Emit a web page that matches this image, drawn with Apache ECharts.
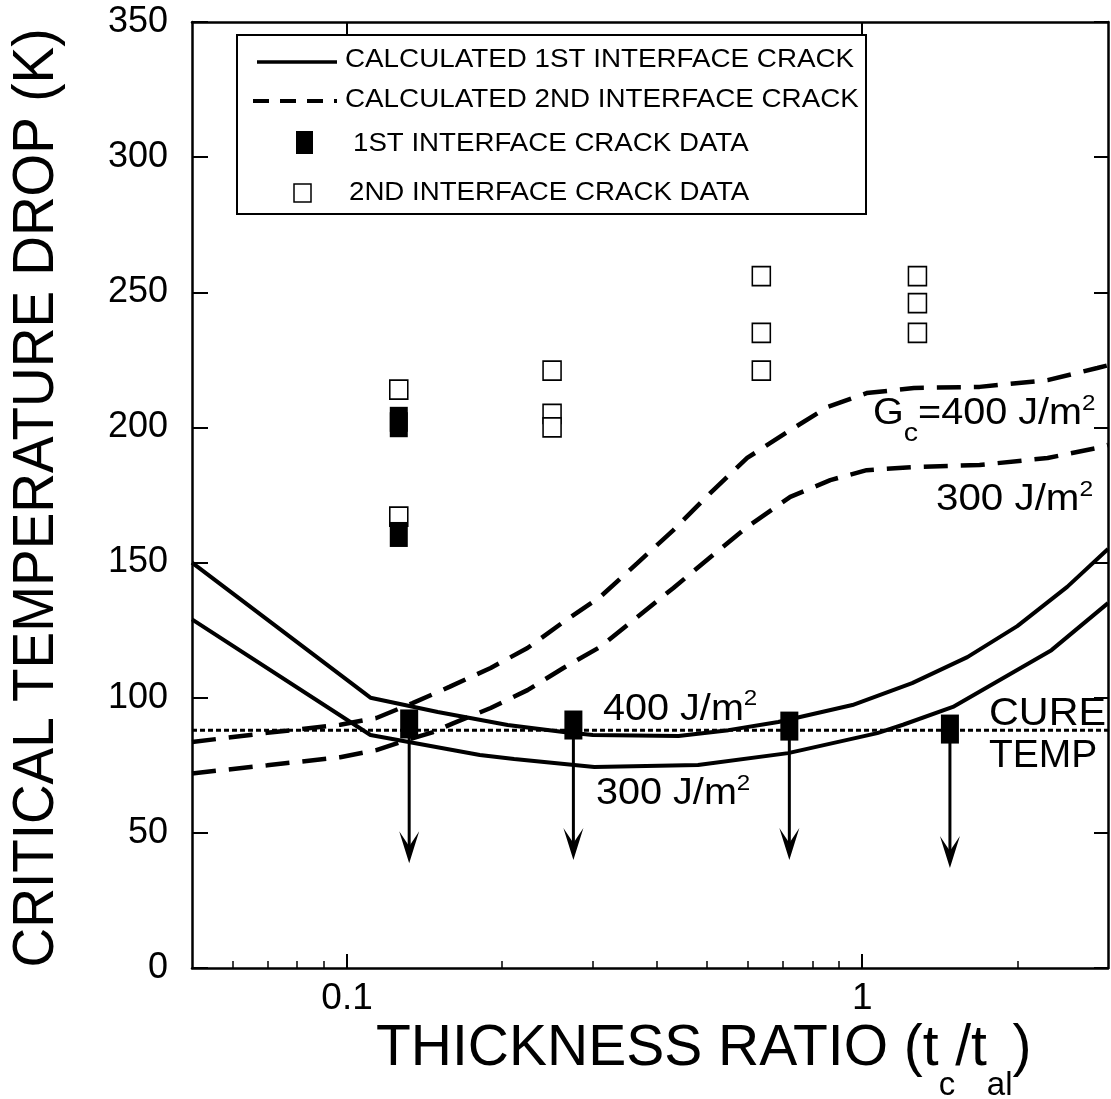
<!DOCTYPE html>
<html><head><meta charset="utf-8">
<script src="https://cdn.jsdelivr.net/npm/echarts@6/dist/echarts.min.js"></script>
<style>html,body{margin:0;padding:0;background:#fff}#c{width:1111px;height:1099px}</style>
</head><body><div id="c"></div>
<script>
// ---------- data ----------
const xMajorTicks = [0.1, 1];
const xMinorTicks = [0.06, 0.07, 0.08, 0.09, 0.2, 0.3, 0.4, 0.5, 0.6, 0.7, 0.8, 0.9, 2];
const yTickStep = 50;

// calculated 1st interface crack (solid)
const calc1st400 = [[0.05,150],[0.111,100],[0.15,94.7],[0.205,89.9],[0.263,87.3],[0.30,86.2],[0.44,85.8],[0.55,88],[0.687,91],[0.957,97.3],[1.25,105.4],[1.6,115],[2.0,126.5],[2.5,141],[3,155]];
const calc1st300 = [[0.05,129],[0.111,86.2],[0.181,78.8],[0.211,77.3],[0.302,74.4],[0.48,75.1],[0.718,79.5],[1.07,86.9],[1.2,90],[1.5,96.6],[2.33,117.6],[3,135]];
// calculated 2nd interface crack (dashed)
const calc2nd400 = [[0.05,83.6],[0.07,87],[0.097,90],[0.114,92.5],[0.134,98],[0.158,104],[0.19,111],[0.224,118.4],[0.263,128],[0.31,137.3],[0.366,149.8],[0.43,162],[0.507,175.7],[0.598,188.7],[0.725,199],[0.855,207.5],[1.02,212.7],[1.26,214.6],[1.69,215],[2.29,217.5],[2.86,222],[3,223]];
const calc2nd300 = [[0.05,72],[0.07,75],[0.097,78],[0.114,80.6],[0.131,84.4],[0.147,87.3],[0.161,90.6],[0.19,96.2],[0.224,102.8],[0.263,111],[0.31,118.8],[0.366,129.9],[0.43,140.6],[0.507,152],[0.598,163.2],[0.725,174.3],[0.867,180.5],[1.02,184.2],[1.26,185.3],[1.69,186.1],[2.29,188.7],[2.86,192.4],[3,193.5]];
// cure temperature
const cureTemp = [[0.05,88],[3,88]];
// measured data
const data2nd = [[0.126,214],[0.126,167],[0.25,221],[0.25,205],[0.25,200],[0.637,256],[0.637,235],[0.637,221],[1.28,256],[1.28,246],[1.28,235]];
const data1st = [[0.126,203],[0.126,201],[0.126,160.4]];
const data1stBelowCure = [[0.132,90.3],[0.275,89.9],[0.722,89.5],[1.48,88.4]];
const arrowTips = [38.8, 40, 40, 37];

// ---------- chart ----------
const FONT = '"Liberation Sans", Arial, Helvetica, sans-serif';
const chart = echarts.init(document.getElementById('c'), null, {renderer: 'canvas'});

const arrowData = data1stBelowCure.map((d, i) => [d[0], d[1], arrowTips[i]]);

const richJ = {
  m: {fontSize: 36, lineHeight: 36, fontFamily: FONT, padding: [4,0,0,0], verticalAlign: 'top', fill: '#000'},
  p: {fontSize: 22, lineHeight: 22, fontFamily: FONT, verticalAlign: 'top', fill: '#000'},
  s: {fontSize: 26, lineHeight: 26, fontFamily: FONT, padding: [28.6,0,0,0], verticalAlign: 'top', fill: '#000'}
};
function annot(x, capY, text, sx) {
  return {type: 'text', x: x, y: capY - 22, scaleX: sx, z: 100,
    style: {text: text, rich: richJ, fill: '#000', align: 'left', textAlign: 'left', verticalAlign: 'top', textVerticalAlign: 'top'}};
}
function plain(x, y, text, size, sx) {
  return {type: 'text', x: x, y: y, scaleX: sx, z: 100,
    style: {text: text, fontSize: size, fontFamily: FONT, fill: '#000', align: 'left', textAlign: 'left', verticalAlign: 'middle', textVerticalAlign: 'middle'}};
}

const axisLineStyle = {color: '#000', width: 2.5};
const option = {
  animation: false,
  backgroundColor: '#fff',
  grid: {left: 192, right: 3, top: 22, bottom: 131, containLabel: false},
  xAxis: [
    {type: 'log', logBase: 10, min: 0.05, max: 3, position: 'bottom',
     axisLine: {show: true, lineStyle: axisLineStyle},
     axisTick: {show: true, inside: true, length: 14, lineStyle: {color: '#000', width: 2}, customValues: xMajorTicks},
     axisLabel: {show: true, customValues: xMajorTicks, margin: 12, fontSize: 37, fontFamily: FONT, color: '#000',
       formatter: v => (Math.abs(v - 0.1) < 1e-6 ? '0.1' : (Math.abs(v - 1) < 1e-6 ? '1' : ''))},
     splitLine: {show: false}, minorTick: {show: false}},
    {type: 'log', logBase: 10, min: 0.05, max: 3, position: 'bottom',
     axisLine: {show: false},
     axisTick: {show: true, inside: true, length: 7, lineStyle: {color: '#000', width: 1.5}, customValues: xMinorTicks},
     axisLabel: {show: false}, splitLine: {show: false}},
    {type: 'log', logBase: 10, min: 0.05, max: 3, position: 'top',
     axisLine: {show: true, lineStyle: axisLineStyle},
     axisTick: {show: true, inside: true, length: 13, lineStyle: {color: '#000', width: 2}, customValues: xMajorTicks},
     axisLabel: {show: false}, splitLine: {show: false}}
  ],
  yAxis: [
    {type: 'value', min: 0, max: 350, interval: yTickStep, position: 'left',
     axisLine: {show: true, lineStyle: axisLineStyle},
     axisTick: {show: true, inside: true, length: 16, lineStyle: {color: '#000', width: 2}},
     axisLabel: {show: true, margin: 24, fontSize: 36, fontFamily: FONT, color: '#000'},
     splitLine: {show: false}},
    {type: 'value', min: 0, max: 350, interval: yTickStep, position: 'right',
     axisLine: {show: true, lineStyle: axisLineStyle},
     axisTick: {show: true, inside: true, length: 14, lineStyle: {color: '#000', width: 2}},
     axisLabel: {show: false}, splitLine: {show: false}}
  ],
  series: [
    {name: 'calc1st400', type: 'line', data: calc1st400, symbol: 'none', lineStyle: {color: '#000', width: 4}},
    {name: 'calc1st300', type: 'line', data: calc1st300, symbol: 'none', lineStyle: {color: '#000', width: 4}},
    {name: 'calc2nd400', type: 'line', data: calc2nd400, symbol: 'none', lineStyle: {color: '#000', width: 4.5, type: [24, 13], cap: 'butt'}},
    {name: 'calc2nd300', type: 'line', data: calc2nd300, symbol: 'none', lineStyle: {color: '#000', width: 4.5, type: [24, 13], cap: 'butt'}},
    {name: 'cure', type: 'line', data: cureTemp, symbol: 'none', lineStyle: {color: '#000', width: 3, type: [5, 3]}},
    {name: 'arrows', type: 'custom', data: arrowData, z: 3,
     renderItem: function (params, api) {
       const top = api.coord([api.value(0), api.value(1)]);
       const tip = api.coord([api.value(0), api.value(2)]);
       return {type: 'group', children: [
         {type: 'line', shape: {x1: top[0], y1: top[1], x2: tip[0], y2: tip[1] - 14}, style: {stroke: '#000', lineWidth: 3}},
         {type: 'polygon', shape: {points: [[tip[0], tip[1]], [tip[0] - 10, tip[1] - 32], [tip[0], tip[1] - 17], [tip[0] + 10, tip[1] - 32]]}, style: {fill: '#000'}}
       ]};
     }},
    {name: 'data2nd', type: 'scatter', data: data2nd, symbol: 'rect', symbolSize: [18, 19], z: 4,
     itemStyle: {color: '#fff', borderColor: '#000', borderWidth: 1.6, opacity: 1}},
    {name: 'data1st', type: 'scatter', data: data1st, symbol: 'rect', symbolSize: [18, 25], z: 5,
     itemStyle: {color: '#000', opacity: 1}},
    {name: 'data1stBelow', type: 'scatter', data: data1stBelowCure, symbol: 'rect', symbolSize: [18, 29], z: 5,
     itemStyle: {color: '#000', opacity: 1}}
  ],
  graphic: [
    // axis titles
    {type: 'text', x: 37, y: 498, rotation: Math.PI / 2, scaleX: 0.947, z: 100,
     style: {text: 'CRITICAL TEMPERATURE DROP (K)', fontSize: 58, fontFamily: FONT, fill: '#000',
       align: 'center', textAlign: 'center', verticalAlign: 'middle', textVerticalAlign: 'middle'}},
    {type: 'text', x: 376, y: 1021, z: 100,
     style: {text: '{m|THICKNESS RATIO (t}{s|c}{m|/t}{s|al}{m|)}', fill: '#000',
       align: 'left', textAlign: 'left', verticalAlign: 'top', textVerticalAlign: 'top',
       rich: {
         m: {fontSize: 57, lineHeight: 57, fontFamily: FONT, verticalAlign: 'top', fill: '#000'},
         s: {fontSize: 33, lineHeight: 33, fontFamily: FONT, padding: [48.5, 0, 0, 0], verticalAlign: 'top', fill: '#000'}
       }}},
    // legend
    {type: 'rect', z: 90, shape: {x: 237, y: 35, width: 629, height: 179}, style: {fill: '#fff', stroke: '#000', lineWidth: 2}},
    {type: 'line', z: 91, shape: {x1: 257, y1: 62, x2: 337, y2: 62}, style: {stroke: '#000', lineWidth: 3.5}},
    {type: 'line', z: 91, shape: {x1: 253, y1: 101, x2: 337, y2: 101}, style: {stroke: '#000', lineWidth: 4, lineDash: [16, 11]}},
    {type: 'rect', z: 91, shape: {x: 296, y: 131, width: 17, height: 23}, style: {fill: '#000'}},
    {type: 'rect', z: 91, shape: {x: 294, y: 184, width: 17, height: 18}, style: {fill: '#fff', stroke: '#000', lineWidth: 1.5}},
    plain(345, 60, 'CALCULATED 1ST INTERFACE CRACK', 25.5, 1.09),
    plain(345, 100, 'CALCULATED 2ND INTERFACE CRACK', 25.5, 1.09),
    plain(353, 144, '1ST INTERFACE CRACK DATA', 25.5, 1.085),
    plain(349, 193, '2ND INTERFACE CRACK DATA', 25.5, 1.085),
    // in-plot annotations
    annot(873, 414.5, '{m|G}{s|c}{m|=400 J/m}{p|2}', 1.1),
    annot(936, 500.5, '{m|300 J/m}{p|2}', 1.12),
    annot(603, 710, '{m|400 J/m}{p|2}', 1.1),
    annot(596, 794.5, '{m|300 J/m}{p|2}', 1.1),
    plain(989, 714, 'CURE', 39, 1.06),
    plain(989, 756, 'TEMP', 39, 1.0)
  ]
};
chart.setOption(option);
</script></body></html>
